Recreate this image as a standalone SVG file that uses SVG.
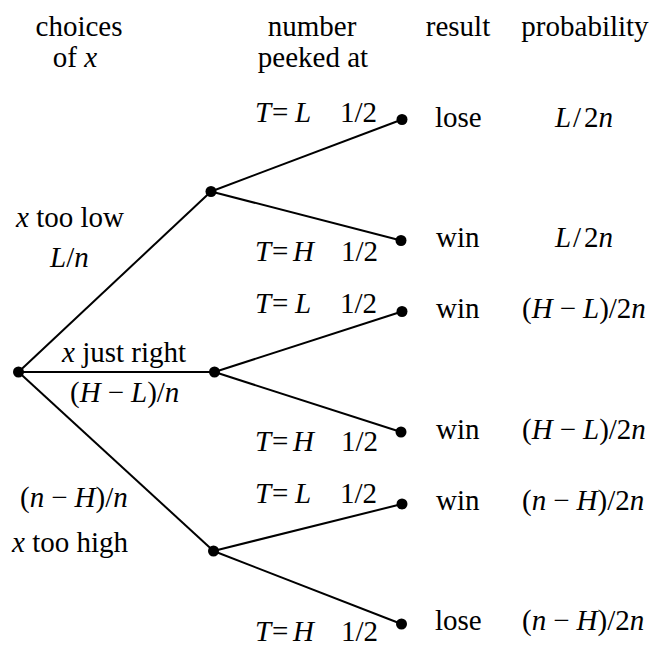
<svg xmlns="http://www.w3.org/2000/svg" width="654" height="646" viewBox="0 0 654 646" font-family="'Liberation Serif', Tinos, 'DejaVu Serif', serif" font-size="29">
<style>
text{font-family:'Liberation Serif',Tinos,'DejaVu Serif',serif;font-size:29px;fill:#000}
.i{font-style:italic}
.c{text-anchor:middle}
.e{stroke:#000;stroke-width:2;fill:none}
.n{fill:#000}
</style>
<rect width="654" height="646" fill="#fff"/>
<g id="headers">
<text class="c" x="79" y="36">choices</text>
<text class="c" x="75" y="67">of <tspan class="i">x</tspan></text>
<text class="c" x="312" y="36">number</text>
<text class="c" x="313" y="67">peeked at</text>
<text class="c" x="458" y="36">result</text>
<text class="c" x="585" y="36">probability</text>
</g>
<g id="connectors">
<line class="e" x1="18.5" y1="372" x2="211" y2="191.5"/>
<line class="e" x1="18.5" y1="372" x2="214.5" y2="372"/>
<line class="e" x1="18.5" y1="372" x2="213.5" y2="551"/>
<line class="e" x1="211" y1="191.5" x2="402" y2="119.5"/>
<line class="e" x1="211" y1="191.5" x2="401" y2="240.5"/>
<line class="e" x1="214.5" y1="372" x2="402" y2="311.5"/>
<line class="e" x1="214.5" y1="372" x2="401" y2="432"/>
<line class="e" x1="213.5" y1="551" x2="402" y2="504"/>
<line class="e" x1="213.5" y1="551" x2="401.5" y2="624"/>
</g>
<g id="root"><circle class="n" cx="18.5" cy="372" r="5.5"/></g>
<g id="low">
<circle class="n" cx="211" cy="191.5" r="5.5"/>
<text x="16" y="227"><tspan class="i">x</tspan> too low</text>
<text x="50" y="267"><tspan class="i">L</tspan>/<tspan class="i">n</tspan></text>
</g>
<g id="right">
<circle class="n" cx="214.5" cy="372" r="5.5"/>
<text x="62" y="362"><tspan class="i">x</tspan> just right</text>
<text x="70" y="402">(<tspan class="i">H</tspan><tspan dx="7">−</tspan><tspan class="i" dx="7">L</tspan>)/<tspan class="i">n</tspan></text>
</g>
<g id="high">
<circle class="n" cx="213.5" cy="551" r="5.5"/>
<text x="20" y="507">(<tspan class="i">n</tspan><tspan dx="7">−</tspan><tspan class="i" dx="7">H</tspan>)/<tspan class="i">n</tspan></text>
<text x="12" y="552"><tspan class="i">x</tspan> too high</text>
</g>
<g id="leaf1">
<circle class="n" cx="402" cy="119.5" r="5.5"/>
<text x="255" y="122"><tspan class="i">T</tspan><tspan x="272">=</tspan><tspan class="i" x="295">L</tspan><tspan x="340">1/2</tspan></text>
<text x="435" y="127">lose</text>
<text x="555" y="127"><tspan class="i">L</tspan><tspan x="573">/</tspan><tspan x="584">2</tspan><tspan class="i">n</tspan></text>
</g>
<g id="leaf2">
<circle class="n" cx="401" cy="240.5" r="5.5"/>
<text x="255" y="261"><tspan class="i">T</tspan><tspan x="272">=</tspan><tspan class="i" x="293">H</tspan><tspan x="341">1/2</tspan></text>
<text x="436" y="247">win</text>
<text x="555" y="247"><tspan class="i">L</tspan><tspan x="573">/</tspan><tspan x="584">2</tspan><tspan class="i">n</tspan></text>
</g>
<g id="leaf3">
<circle class="n" cx="402" cy="311.5" r="5.5"/>
<text x="255" y="313"><tspan class="i">T</tspan><tspan x="272">=</tspan><tspan class="i" x="295">L</tspan><tspan x="340">1/2</tspan></text>
<text x="436" y="318">win</text>
<text x="522" y="318">(<tspan class="i">H</tspan><tspan dx="7">−</tspan><tspan class="i" dx="7">L</tspan>)/2<tspan class="i">n</tspan></text>
</g>
<g id="leaf4">
<circle class="n" cx="401" cy="432" r="5.5"/>
<text x="255" y="451"><tspan class="i">T</tspan><tspan x="272">=</tspan><tspan class="i" x="293">H</tspan><tspan x="341">1/2</tspan></text>
<text x="436" y="438.5">win</text>
<text x="522" y="438.5">(<tspan class="i">H</tspan><tspan dx="7">−</tspan><tspan class="i" dx="7">L</tspan>)/2<tspan class="i">n</tspan></text>
</g>
<g id="leaf5">
<circle class="n" cx="402" cy="504" r="5.5"/>
<text x="255" y="503"><tspan class="i">T</tspan><tspan x="272">=</tspan><tspan class="i" x="295">L</tspan><tspan x="340">1/2</tspan></text>
<text x="436" y="510">win</text>
<text x="522" y="510">(<tspan class="i">n</tspan><tspan dx="7">−</tspan><tspan class="i" dx="7">H</tspan>)/2<tspan class="i">n</tspan></text>
</g>
<g id="leaf6">
<circle class="n" cx="401.5" cy="624" r="5.5"/>
<text x="255" y="641"><tspan class="i">T</tspan><tspan x="272">=</tspan><tspan class="i" x="293">H</tspan><tspan x="341">1/2</tspan></text>
<text x="435" y="630">lose</text>
<text x="522" y="630">(<tspan class="i">n</tspan><tspan dx="7">−</tspan><tspan class="i" dx="7">H</tspan>)/2<tspan class="i">n</tspan></text>
</g>
</svg>
